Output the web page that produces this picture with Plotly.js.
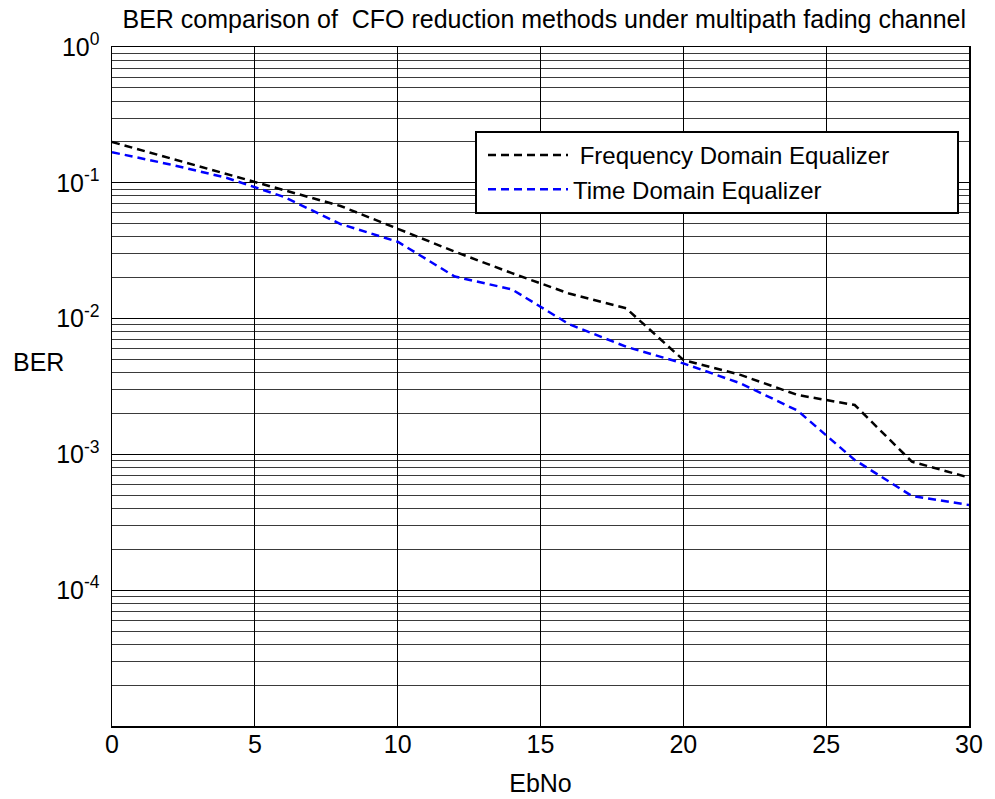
<!DOCTYPE html>
<html>
<head>
<meta charset="utf-8">
<script src="https://cdn.plot.ly/plotly-3.0.1.min.js"></script>
<style>html,body{margin:0;padding:0;background:#fff;}#chart{width:995px;height:799px;}</style>
</head>
<body>
<div id="chart"></div>
<script>
const ebno = [0, 2, 4, 6, 8, 10, 12, 14, 16, 18, 20, 22, 24, 26, 28, 30];
const berFreq = [0.2, 0.152, 0.116, 0.0885, 0.0675, 0.0459, 0.0311, 0.0216, 0.0153, 0.0119, 0.00496, 0.00385, 0.00274, 0.00231, 0.000884, 0.000675];
const berTime = [0.168, 0.137, 0.109, 0.079, 0.0497, 0.0368, 0.0204, 0.0164, 0.0091, 0.0062, 0.00468, 0.00334, 0.0021, 0.00091, 0.000494, 0.000424];
const seriesNames = ['\u00a0Frequency Domain Equalizer', 'Time Domain Equalizer'];
const yTickVals = [1, 0.1, 0.01, 0.001, 0.0001];
const yTickText = ['10<sup>0</sup>', '10<sup>-1</sup>', '10<sup>-2</sup>', '10<sup>-3</sup>', '10<sup>-4</sup>'];
const xTickVals = [0, 5, 10, 15, 20, 25, 30];

const FONT = 'Liberation Sans, Arial, sans-serif';
// plot area in px: left 112, right 969, top 47, bottom 726
const PW = 857, PH = 679;
const px = v => (v - 112) / PW;
const py = v => (726 - v) / PH;

const traces = [
  {x: ebno, y: berFreq, name: seriesNames[0], mode: 'lines', type: 'scatter',
   line: {color: '#000000', width: 2.5, dash: '8px,5px'}},
  {x: ebno, y: berTime, name: seriesNames[1], mode: 'lines', type: 'scatter',
   line: {color: '#0000ff', width: 2.5, dash: '8px,5px'}}
];

const layout = {
  width: 995, height: 799,
  margin: {l: 112, r: 26, t: 47, b: 73},
  paper_bgcolor: '#ffffff', plot_bgcolor: '#ffffff',
  font: {family: FONT, color: '#000', size: 25},
  title: {text: 'BER comparison of  CFO reduction methods under multipath fading channel',
          font: {family: FONT, size: 25, color: '#000'},
          x: 0.547, xanchor: 'center', xref: 'container', y: 0.976, yanchor: 'middle', yref: 'container'},
  xaxis: {range: [0, 30], tickvals: xTickVals, ticks: '', showgrid: true, gridcolor: '#000', gridwidth: 1,
          showline: true, linecolor: '#000', linewidth: 1.5, mirror: true, zeroline: false,
          tickfont: {family: FONT, size: 25}, ticklabelstandoff: -5,
          title: {text: 'EbNo', font: {family: FONT, size: 25}, standoff: 18}},
  yaxis: {type: 'log', range: [-5, 0], tickvals: yTickVals, ticktext: yTickText, ticks: '',
          showgrid: true, gridcolor: '#000', gridwidth: 1,
          minor: {dtick: 'D1', showgrid: true, gridcolor: '#3a3a3a', gridwidth: 1, ticks: ''},
          showline: true, linecolor: '#000', linewidth: 1.5, mirror: true, zeroline: false,
          tickfont: {family: FONT, size: 25}, ticklabelstandoff: 6},
  showlegend: true,
  legend: {x: px(483), y: py(133), xanchor: 'left', yanchor: 'top', xref: 'paper', yref: 'paper',
           bgcolor: 'rgba(0,0,0,0)', borderwidth: 0,
           font: {family: FONT, size: 24, color: '#000'}, itemwidth: 80, tracegroupgap: 0},
  shapes: [
    {type: 'rect', xref: 'paper', yref: 'paper', x0: px(476), x1: px(958), y0: py(213), y1: py(132),
     line: {color: '#000', width: 2}, fillcolor: '#ffffff', layer: 'above'}
  ],
  annotations: [
    {text: 'BER', xref: 'paper', yref: 'paper', x: px(11), y: py(362), xanchor: 'left', yanchor: 'middle',
     showarrow: false, font: {family: FONT, size: 25, color: '#000'}}
  ]
};

Plotly.newPlot('chart', traces, layout, {staticPlot: true, displayModeBar: false});
</script>
</body>
</html>
